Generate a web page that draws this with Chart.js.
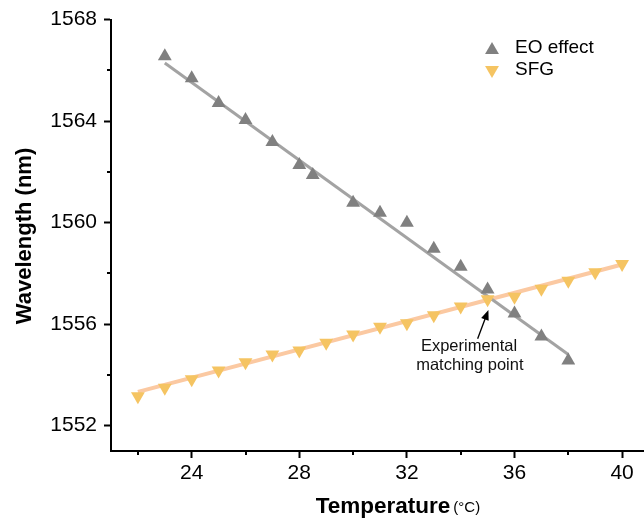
<!DOCTYPE html>
<html>
<head>
<meta charset="utf-8">
<script src="https://cdn.jsdelivr.net/npm/chart.js@4.4.0/dist/chart.umd.min.js"></script>
<style>
html, body { margin: 0; padding: 0; background: #fff; overflow: hidden; }
#wrap { width: 680px; height: 518px; }
</style>
</head>
<body>
<div id="wrap"><canvas id="chart" width="680" height="518"></canvas></div>
<script>
// EO effect, measured points
const eoTemp = [23, 24, 25, 26, 27, 28, 28.5, 30, 31, 32, 33, 34, 35, 36, 37, 38];
const eoWave = [1566.56, 1565.69, 1564.71, 1564.04, 1563.18, 1562.27, 1561.88, 1560.78,
                1560.39, 1559.99, 1558.97, 1558.26, 1557.36, 1556.42, 1555.51, 1554.57];
// EO effect, linear fit end points
const eoFitTemp = [23, 38];
const eoFitWave = [1566.29, 1554.80];

// SFG, measured points
const sfgTemp = [22, 23, 24, 25, 26, 27, 28, 29, 30, 31, 32, 33, 34, 35, 36, 37, 38, 39, 40];
const sfgWave = [1553.16, 1553.49, 1553.83, 1554.17, 1554.50, 1554.80, 1554.96, 1555.27, 1555.59,
                 1555.90, 1556.03, 1556.35, 1556.69, 1556.98, 1557.08, 1557.39, 1557.71, 1558.04, 1558.37];
// SFG, linear fit end points
const sfgFitTemp = [22, 40];
const sfgFitWave = [1553.33, 1558.35];

// axis ticks
const xTicks = [24, 28, 32, 36, 40];
const xMinor = [22, 26, 30, 34, 38];
const yTicks = [1552, 1556, 1560, 1564, 1568];
const yMinor = [1554, 1558, 1562, 1566];

const FONT = "'Liberation Sans', Arial, sans-serif";
const GRAY = '#808080', GRAY_LINE = '#a3a3a3';
const ORANGE = '#f5c462', ORANGE_LINE = '#fbc9a2';

function pts(xs, ys) {
    return xs.map((x, i) => ({ x: x, y: ys[i] }));
}

function triangle(ctx, x, y, r, down) {
    const s = down ? -1 : 1;
    ctx.beginPath();
    ctx.moveTo(x, y - s * r);
    ctx.lineTo(x + r * Math.sin(2 * Math.PI / 3), y + s * r / 2);
    ctx.lineTo(x - r * Math.sin(2 * Math.PI / 3), y + s * r / 2);
    ctx.closePath();
    ctx.fill();
}

// minor ticks, legend, axis titles and the annotation
const decor = {
    id: 'decor',
    afterDraw(chart) {
        const ctx = chart.ctx;
        const xs = chart.scales.x, ys = chart.scales.y;
        const area = chart.chartArea;
        ctx.save();

        ctx.strokeStyle = '#000';
        ctx.lineWidth = 2;
        xMinor.forEach(v => {
            const px = Math.round(xs.getPixelForValue(v));
            ctx.beginPath();
            ctx.moveTo(px, area.bottom);
            ctx.lineTo(px, area.bottom + 4);
            ctx.stroke();
        });
        yMinor.forEach(v => {
            const py = Math.round(ys.getPixelForValue(v));
            ctx.beginPath();
            ctx.moveTo(area.left, py);
            ctx.lineTo(area.left - 4, py);
            ctx.stroke();
        });

        // legend
        ctx.fillStyle = GRAY;
        triangle(ctx, 492, 50, 8, false);
        ctx.fillStyle = ORANGE;
        triangle(ctx, 492, 70, 8, true);
        ctx.fillStyle = '#000';
        ctx.font = '19px ' + FONT;
        ctx.textAlign = 'left';
        ctx.textBaseline = 'middle';
        ctx.fillText('EO effect', 515, 48);
        ctx.fillText('SFG', 515, 70);

        // y title
        ctx.save();
        ctx.translate(25, 236);
        ctx.rotate(-Math.PI / 2);
        ctx.font = 'bold 22px ' + FONT;
        ctx.textAlign = 'center';
        ctx.fillText('Wavelength (nm)', 0, 0);
        ctx.restore();

        // x title
        ctx.font = 'bold 22.5px ' + FONT;
        const t1 = 'Temperature';
        const w1 = ctx.measureText(t1).width;
        const x0 = 383 - w1 / 2;
        ctx.textAlign = 'left';
        ctx.fillText(t1, x0, 507);
        ctx.font = '15px ' + FONT;
        ctx.fillText('(°C)', x0 + w1 + 3, 508);

        // annotation
        ctx.font = '16.5px ' + FONT;
        ctx.textAlign = 'center';
        ctx.fillStyle = '#111';
        ctx.fillText('Experimental', xs.getPixelForValue(34.31), ys.getPixelForValue(1555.13));
        ctx.fillText('matching point', xs.getPixelForValue(34.34), ys.getPixelForValue(1554.37));

        const tx = xs.getPixelForValue(34.63), ty = ys.getPixelForValue(1555.42);
        const hx = xs.getPixelForValue(35.03), hy = ys.getPixelForValue(1556.56);
        const ang = Math.atan2(hy - ty, hx - tx);
        ctx.strokeStyle = '#000';
        ctx.lineWidth = 1.3;
        ctx.beginPath();
        ctx.moveTo(tx, ty);
        ctx.lineTo(hx - 7 * Math.cos(ang), hy - 7 * Math.sin(ang));
        ctx.stroke();
        ctx.fillStyle = '#000';
        ctx.beginPath();
        ctx.moveTo(hx, hy);
        ctx.lineTo(hx - 10 * Math.cos(ang) + 4 * Math.sin(ang), hy - 10 * Math.sin(ang) - 4 * Math.cos(ang));
        ctx.lineTo(hx - 10 * Math.cos(ang) - 4 * Math.sin(ang), hy - 10 * Math.sin(ang) + 4 * Math.cos(ang));
        ctx.closePath();
        ctx.fill();

        ctx.restore();
    }
};

new Chart(document.getElementById('chart'), {
    type: 'scatter',
    data: {
        datasets: [
            {
                label: 'EO effect',
                data: pts(eoTemp, eoWave),
                pointStyle: 'triangle',
                pointRadius: 8,
                pointBackgroundColor: GRAY,
                pointBorderColor: GRAY,
                pointBorderWidth: 0,
                order: 1
            },
            {
                label: 'SFG',
                data: pts(sfgTemp, sfgWave),
                pointStyle: 'triangle',
                pointRotation: 180,
                pointRadius: 8,
                pointBackgroundColor: ORANGE,
                pointBorderColor: ORANGE,
                pointBorderWidth: 0,
                order: 2
            },
            {
                label: 'EO fit',
                data: pts(eoFitTemp, eoFitWave),
                showLine: true,
                borderColor: GRAY_LINE,
                borderWidth: 3,
                pointRadius: 0,
                order: 3
            },
            {
                label: 'SFG fit',
                data: pts(sfgFitTemp, sfgFitWave),
                showLine: true,
                borderColor: ORANGE_LINE,
                borderWidth: 4,
                pointRadius: 0,
                order: 4
            }
        ]
    },
    options: {
        responsive: false,
        animation: false,
        layout: { padding: { left: 0, top: 18, right: 31, bottom: 0 } },
        plugins: { legend: { display: false }, tooltip: { enabled: false } },
        scales: {
            x: {
                type: 'linear',
                min: 21,
                max: 41,
                afterBuildTicks: s => { s.ticks = xTicks.map(v => ({ value: v })); },
                afterFit: s => { s.height = 67; },
                border: { display: true, color: '#000', width: 2 },
                grid: { drawOnChartArea: false, drawTicks: true, tickLength: 7, tickWidth: 2, tickColor: '#000' },
                ticks: { color: '#000', padding: 3, font: { family: FONT, size: 21 }, callback: v => String(v) }
            },
            y: {
                type: 'linear',
                min: 1551,
                max: 1568,
                afterBuildTicks: s => { s.ticks = yTicks.map(v => ({ value: v })); },
                afterFit: s => { s.width = 111; },
                border: { display: true, color: '#000', width: 2 },
                grid: { drawOnChartArea: false, drawTicks: true, tickLength: 7, tickWidth: 2, tickColor: '#000' },
                ticks: { color: '#000', padding: 7, font: { family: FONT, size: 21 }, callback: v => String(v) }
            }
        }
    },
    plugins: [decor]
});
</script>
</body>
</html>
